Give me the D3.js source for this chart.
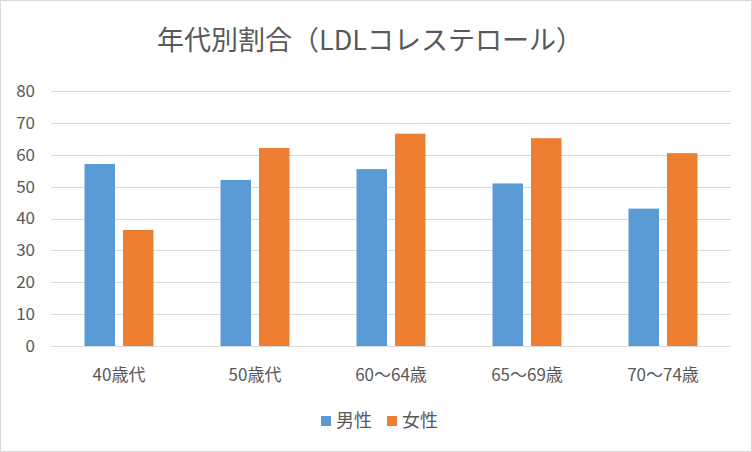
<!DOCTYPE html>
<html><head><meta charset="utf-8">
<script src="https://cdn.jsdelivr.net/npm/d3@7"></script>
<style>body{margin:0;background:#fff;}svg{display:block;}</style>
</head><body>
<script>
const categories = ["40歳代","50歳代","60〜64歳","65〜69歳","70〜74歳"];
const seriesNames = ["男性","女性"];
const male = [57.1, 52.1, 55.5, 51.0, 43.1];
const female = [36.4, 62.1, 66.6, 65.2, 60.5];
const yTicks = [0,10,20,30,40,50,60,70,80];
const colors = ["#5B9BD5","#ED7D31"];
const title = "年代別割合（LDLコレステロール）";

(function(){
const W = 752, H = 452;
const font = "'Noto Sans CJK JP','Noto Sans',sans-serif";
const svg = d3.select("body").append("svg").attr("width",W).attr("height",H);
svg.append("rect").attr("x",0.5).attr("y",0.5).attr("width",W-1).attr("height",H-1)
  .attr("fill","#fff").attr("stroke","#d9d9d9");

const pl = 51, pr = 731, pt = 91, pb = 346;
const x0 = d3.scaleBand().domain(categories).range([pl,pr]).padding(0);
const y = d3.scaleLinear().domain([0,80]).range([pb,pt]);
const barW = 30.5, gap = 8;
const x1 = d3.scaleOrdinal().domain(seriesNames).range([-(barW+gap/2), gap/2]);

svg.append("g").selectAll("line").data(yTicks).join("line")
  .attr("x1",pl).attr("x2",pr)
  .attr("y1",d=>Math.round(y(d))+0.5).attr("y2",d=>Math.round(y(d))+0.5)
  .attr("stroke","#d9d9d9").attr("stroke-width",1);

const yAxis = d3.axisLeft(y).tickValues(yTicks).tickSize(0).tickPadding(0);
const ya = svg.append("g").attr("transform",`translate(35,0)`).call(yAxis);
ya.select(".domain").remove();
ya.selectAll("text").attr("font-family",font).attr("font-size",17).attr("fill","#595959");

const data = seriesNames.map((s,i)=>({name:s, values: i===0?male:female, color:colors[i]}));
const g = svg.append("g");
data.forEach(s=>{
  g.selectAll(null).data(categories).join("rect")
    .attr("x",(c)=>x0(c)+x0.bandwidth()/2 + x1(s.name))
    .attr("width",barW)
    .attr("y",(c,i)=>y(s.values[i]))
    .attr("height",(c,i)=>pb - y(s.values[i]))
    .attr("fill",s.color);
});

const xAxis = d3.axisBottom(x0).tickSize(0).tickPadding(0);
const xa = svg.append("g").attr("transform",`translate(0,${pb})`).call(xAxis);
xa.select(".domain").remove();
xa.selectAll("text").attr("font-family",font).attr("font-size",17).attr("fill","#595959")
  .attr("dy",null).attr("y",35);

svg.append("text").attr("x",370).attr("y",50).attr("text-anchor","middle")
  .attr("font-family",font).attr("font-size",27).attr("fill","#595959").text(title);

const lg = svg.append("g");
const legX = [321, 387];
data.forEach((s,i)=>{
  lg.append("rect").attr("x",legX[i]).attr("y",416).attr("width",10).attr("height",10).attr("fill",s.color);
  lg.append("text").attr("x",legX[i]+15).attr("y",427).attr("font-family",font).attr("font-size",18)
    .attr("fill","#595959").text(s.name);
});
})();
</script>
</body></html>
